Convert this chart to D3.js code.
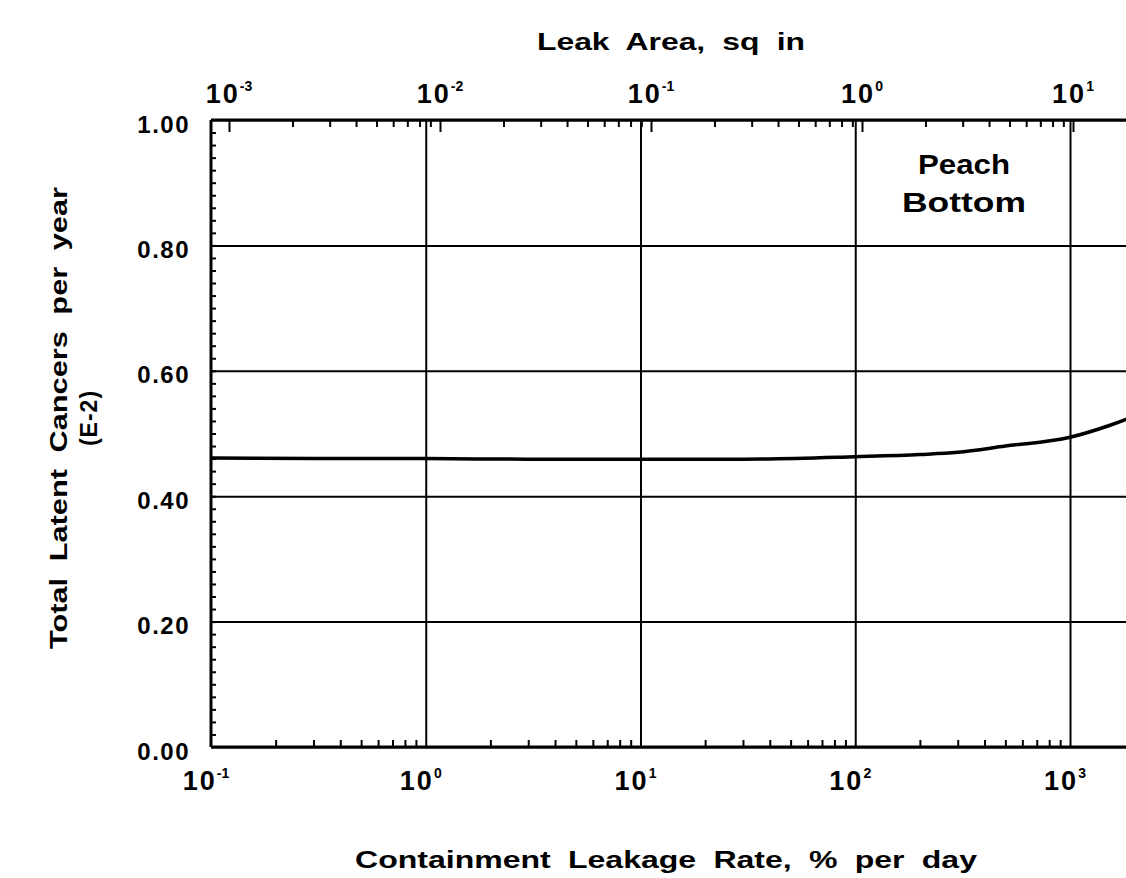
<!DOCTYPE html>
<html>
<head>
<meta charset="utf-8">
<script src="https://cdn.jsdelivr.net/npm/d3@7"></script>
<style>
body { margin: 0; background: #fff; }
svg { display: block; }
text { font-family: "Liberation Sans", Arial, sans-serif; font-weight: bold; fill: #000; }
</style>
</head>
<body>
<svg width="1126" height="878"></svg>
<script>
// data (leakage rate in % per day, cancers per year E-2)
var leakRate = [0.1, 0.3, 1, 3, 10, 30, 100, 200, 300, 500, 1000, 1500, 2000];
var cancers  = [0.461, 0.460, 0.460, 0.459, 0.459, 0.459, 0.463, 0.4665, 0.470, 0.480, 0.494, 0.512, 0.528];
var yTicks = [0, 0.2, 0.4, 0.6, 0.8, 1.0];
var bottomExp = [-1, 0, 1, 2, 3];
var topExp = [-3, -2, -1, 0, 1];

var svg = d3.select("svg");
var marginLeft = 211, marginTop = 120;
var plotH = 627;
var decade = 214.75;   // px per decade, bottom axis
var plotW = Math.log10(2000 / 0.1) * decade;

var x = d3.scaleLog().domain([0.1, 2000]).range([0, plotW]);
// leak area axis is offset a little from the leakage rate axis
var xTop = d3.scaleLog().domain([1e-3, 10]).range([18, 18 + 4 * 211]);
var y = d3.scaleLinear().domain([0, 1]).range([plotH, 0]);

var g = svg.append("g").attr("transform", "translate(" + marginLeft + "," + marginTop + ")");

function minors(scale, lo, hi) {
	var out = [];
	for (var e = lo; e <= hi; e++) {
		for (var k = 2; k <= 9; k++) {
			var v = k * Math.pow(10, e);
			var d = scale.domain();
			if (v > d[0] && v < d[1]) out.push(v);
		}
	}
	return out;
}

// horizontal grid lines + y labels
var yAxis = g.append("g")
	.call(d3.axisLeft(y).tickValues(yTicks).tickSize(-plotW).tickPadding(21).tickFormat(d3.format(".2f")));
yAxis.select(".domain").remove();
yAxis.selectAll("line").attr("stroke", "#000").attr("stroke-width", 2);
yAxis.selectAll("text").style("font-size", "24px").style("letter-spacing", "1.5px").attr("dy", "0.5em");

// y minor ticks every 0.02
var yMin = g.append("g")
	.call(d3.axisLeft(y).tickValues(d3.range(0.02, 1, 0.02)).tickSize(-5).tickFormat(""));
yMin.select(".domain").remove();
yMin.selectAll("line").attr("stroke", "#000").attr("stroke-width", 2);

// vertical grid lines at bottom decades
var xGrid = g.append("g").attr("transform", "translate(0," + plotH + ")")
	.call(d3.axisBottom(x).tickValues([1, 10, 100, 1000]).tickSize(-plotH).tickFormat(""));
xGrid.select(".domain").remove();
xGrid.selectAll("line").attr("stroke", "#000").attr("stroke-width", 2);

// bottom minor ticks
var xMin = g.append("g").attr("transform", "translate(0," + plotH + ")")
	.call(d3.axisBottom(x).tickValues(minors(x, -1, 3)).tickSize(-7).tickFormat(""));
xMin.select(".domain").remove();
xMin.selectAll("line").attr("stroke", "#000").attr("stroke-width", 2);

// top axis ticks (leak area)
var tMaj = g.append("g")
	.call(d3.axisTop(xTop).tickValues(topExp.map(function(e) { return Math.pow(10, e); })).tickSize(-12).tickFormat(""));
tMaj.select(".domain").remove();
tMaj.selectAll("line").attr("stroke", "#000").attr("stroke-width", 2);
var tMin = g.append("g")
	.call(d3.axisTop(xTop).tickValues(minors(xTop, -4, 1)).tickSize(-7).tickFormat(""));
tMin.select(".domain").remove();
tMin.selectAll("line").attr("stroke", "#000").attr("stroke-width", 2);

// frame lines
g.append("line").attr("x1", 0).attr("x2", plotW).attr("y1", plotH).attr("y2", plotH)
	.attr("stroke", "#000").attr("stroke-width", 3);
g.append("line").attr("x1", 0).attr("x2", plotW).attr("y1", 0).attr("y2", 0)
	.attr("stroke", "#000").attr("stroke-width", 3);
g.append("line").attr("x1", 0).attr("x2", 0).attr("y1", 0).attr("y2", plotH)
	.attr("stroke", "#000").attr("stroke-width", 3);

// the curve
var line = d3.line()
	.x(function(d, i) { return x(leakRate[i]); })
	.y(function(d) { return y(d); })
	.curve(d3.curveMonotoneX);
g.append("path").attr("d", line(cancers))
	.attr("fill", "none").attr("stroke", "#000").attr("stroke-width", 3.5);

// power-of-ten labels
function powLabel(sel, xs, yy, exps, shift) {
	exps.forEach(function(e) {
		var t = sel.append("text")
			.attr("x", xs(Math.pow(10, e)) + shift)
			.attr("y", yy)
			.attr("text-anchor", "middle")
			.style("font-size", "27px")
			.style("letter-spacing", "2px");
		t.append("tspan").text("10");
		t.append("tspan").attr("dy", -12).style("font-size", "14px").style("letter-spacing", "0px").text(e);
	});
}
powLabel(g, x, plotH + 43, bottomExp, -5);
powLabel(g, xTop, -17, topExp, 0);

// titles (the original type is wide, so stretch to the measured length)
function title(txt, tx, ty, rot, len) {
	var t = svg.append("text")
		.attr("transform", "translate(" + tx + "," + ty + ")" + (rot ? " rotate(-90)" : ""))
		.attr("text-anchor", "middle")
		.style("font-size", "23px")
		.style("word-spacing", "6px")
		.text(txt);
	if (len) t.attr("textLength", len).attr("lengthAdjust", "spacingAndGlyphs");
	return t;
}
title("Containment Leakage Rate, % per day", 666, 868, false, 622);
title("Leak Area, sq in", 671, 50, false, 268);
title("Total Latent Cancers per year", 67, 418, true, 462);
title("(E-2)", 97, 418, true, null).style("letter-spacing", "1px");

// plant name
g.append("text").attr("x", 964 - marginLeft).attr("y", 174 - marginTop).attr("text-anchor", "middle")
	.attr("textLength", 92).attr("lengthAdjust", "spacingAndGlyphs")
	.style("font-size", "28px").text("Peach");
g.append("text").attr("x", 964 - marginLeft).attr("y", 212 - marginTop).attr("text-anchor", "middle")
	.attr("textLength", 124).attr("lengthAdjust", "spacingAndGlyphs")
	.style("font-size", "28px").text("Bottom");
</script>
</body>
</html>
